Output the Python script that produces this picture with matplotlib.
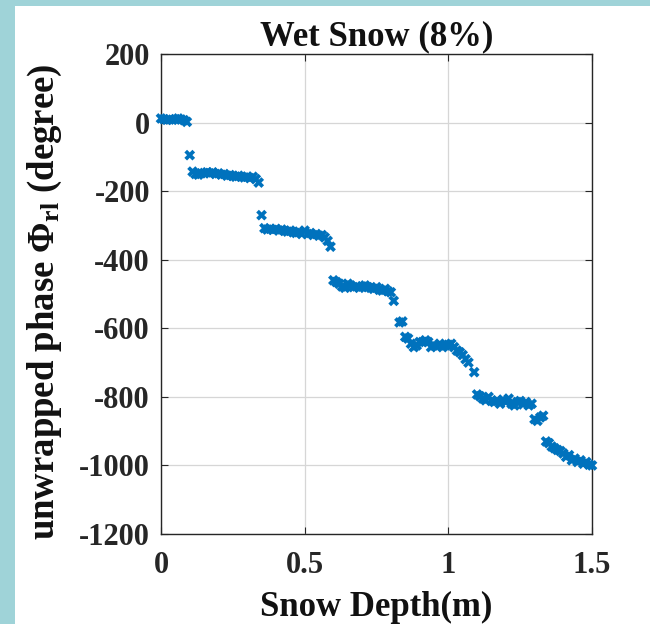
import matplotlib
matplotlib.use("Agg")
import matplotlib.pyplot as plt
from matplotlib.patches import Rectangle

# Snow depth (m) and unwrapped phase (degree)
depth = [
    0.00, 0.01, 0.02, 0.03, 0.04, 0.05, 0.06, 0.07, 0.08, 0.09,
    0.10,
    0.11, 0.12, 0.13, 0.14, 0.15, 0.16, 0.17, 0.18, 0.19, 0.20,
    0.21, 0.22, 0.23, 0.24, 0.25, 0.26, 0.27, 0.28, 0.29, 0.30,
    0.31, 0.32, 0.33, 0.34,
    0.35,
    0.36, 0.37, 0.38, 0.39, 0.40, 0.41, 0.42, 0.43, 0.44, 0.45,
    0.46, 0.47, 0.48, 0.49, 0.50, 0.51, 0.52, 0.53, 0.54, 0.55,
    0.56, 0.57, 0.58, 0.59,
    0.60, 0.61, 0.62, 0.63, 0.64, 0.65, 0.66, 0.67, 0.68, 0.69,
    0.70, 0.71, 0.72, 0.73, 0.74, 0.75, 0.76, 0.77, 0.78, 0.79,
    0.80, 0.81,
    0.83, 0.84,
    0.85, 0.86, 0.87, 0.88, 0.89, 0.90, 0.91, 0.92, 0.93, 0.94,
    0.95, 0.96, 0.97, 0.98, 0.99, 1.00, 1.01, 1.02, 1.03, 1.04,
    1.05, 1.06, 1.07, 1.09,
    1.10, 1.11, 1.12, 1.13, 1.14, 1.15, 1.16, 1.17, 1.18, 1.19,
    1.20, 1.21, 1.22, 1.23, 1.24, 1.25, 1.26, 1.27, 1.28, 1.29,
    1.30, 1.31, 1.32, 1.33,
    1.34, 1.35, 1.36, 1.37, 1.38, 1.39, 1.40, 1.41, 1.42, 1.43,
    1.44, 1.45, 1.46, 1.47, 1.48, 1.49, 1.50,
]

phase = [
    12, 10, 8, 9, 8, 10, 12, 9, 7, 2,
    -95,
    -143, -150, -152, -148, -147, -145, -148, -145, -150, -148,
    -152, -150, -155, -153, -156, -158, -155, -158, -160, -158,
    -162, -158, -165, -175,
    -270,
    -308, -312, -310, -313, -310, -315, -312, -316, -318, -315,
    -320, -322, -318, -325, -315, -325, -322, -328, -325, -330,
    -328, -335, -345, -362,
    -460, -465, -470, -478, -482, -470, -475, -480, -478, -482,
    -478, -475, -480, -482, -485, -480, -488, -490, -485, -492,
    -495, -520,
    -583, -580,
    -625, -630, -645, -655, -650, -640, -640, -635, -640, -655,
    -650, -652, -645, -655, -650, -648, -645, -655, -665, -670,
    -678, -690, -700, -728,
    -793, -798, -805, -810, -800, -812, -815, -810, -820, -808,
    -815, -805, -820, -825, -815, -812, -822, -815, -825, -820,
    -865, -870, -860, -855,
    -930, -935, -945, -950, -955, -958, -965, -975, -970, -985,
    -980, -990, -985, -995, -990, -998, -1000,
]

x_ticks = [0, 0.5, 1, 1.5]
x_tick_labels = ["0", "0.5", "1", "1.5"]
y_ticks = [-1200, -1000, -800, -600, -400, -200, 0, 200]
y_tick_labels = ["-1200", "-1000", "-800", "-600", "-400", "-200", "0", "200"]

plt.rcParams["font.family"] = ["Liberation Serif", "DejaVu Serif"]
plt.rcParams["font.weight"] = "bold"
plt.rcParams["mathtext.fontset"] = "custom"
plt.rcParams["mathtext.rm"] = "Liberation Serif:bold"
plt.rcParams["mathtext.bf"] = "Liberation Serif:bold"
plt.rcParams["mathtext.it"] = "Liberation Serif:bold"

W, H = 650, 624
fig = plt.figure(figsize=(W / 100, H / 100), dpi=100)
fig.patch.set_facecolor("white")

# teal frame strips along the top and left edges
teal = "#9fd3d8"
fig.add_artist(Rectangle((0, 0), 15 / W, 1, transform=fig.transFigure,
                         facecolor=teal, edgecolor="none", zorder=0))
fig.add_artist(Rectangle((0, 1 - 6 / H), 1, 6 / H, transform=fig.transFigure,
                         facecolor=teal, edgecolor="none", zorder=0))

ax = fig.add_axes([161 / W, 1 - 534 / H, (592 - 161) / W, (534 - 54) / H])

ax.scatter(depth, phase, marker="X", s=60, color="#0072BD",
           edgecolors="none", zorder=3, clip_on=False)

ax.set_xlim(0, 1.5)
ax.set_ylim(-1200, 200)
ax.set_xticks(x_ticks)
ax.set_xticklabels(x_tick_labels)
ax.set_yticks(y_ticks)
ax.set_yticklabels(y_tick_labels)

ax.grid(True, color="#d6d6d6", linewidth=0.9, zorder=0)
ax.set_axisbelow(True)
ax.tick_params(axis="both", direction="in", length=5, width=0.8,
               top=True, right=True, labelsize=22, colors="#262626")
ax.tick_params(axis="x", pad=12)
ax.tick_params(axis="y", pad=8)
for lab in ax.get_xticklabels() + ax.get_yticklabels():
    lab.set_fontweight("bold")
for s in ax.spines.values():
    s.set_linewidth(1.0)
    s.set_color("#262626")

ax.set_title("Wet Snow (8%)", fontsize=25, fontweight="bold", pad=6,
             color="#111111")
ax.set_xlabel("Snow Depth(m)", fontsize=25, fontweight="bold",
              labelpad=8, color="#111111")
ax.set_ylabel(r"unwrapped phase $\mathbf{\Phi}_{\mathbf{rl}}$ (degree)",
              fontsize=26.5, fontweight="bold", color="#111111")
ax.yaxis.set_label_coords(-0.224, 0.483)

fig.savefig("out.png", dpi=100, facecolor=fig.get_facecolor())
